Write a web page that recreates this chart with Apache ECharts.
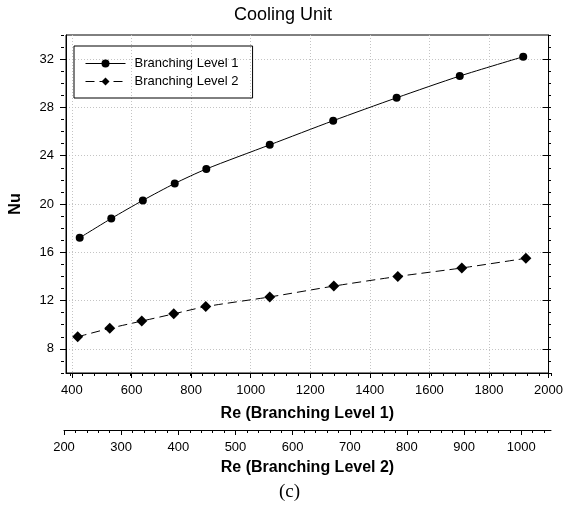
<!DOCTYPE html>
<html>
<head>
<meta charset="utf-8">
<script src="https://cdn.jsdelivr.net/npm/echarts@6/dist/echarts.min.js"></script>
<style>
    html, body { margin: 0; padding: 0; background: #fff; }
    #chart { width: 566px; height: 505px; }
</style>
</head>
<body>
<div id="chart"></div>
<script>
// data
const re1 = [426, 532, 638, 745, 851, 1064, 1277, 1490, 1702, 1915]
const re2 = [224, 280, 336, 392, 448, 560, 672, 784, 896, 1008]
const nu1 = [17.2, 18.8, 20.3, 21.7, 22.9, 24.9, 26.9, 28.8, 30.6, 32.2]
const nu2 = [9.0, 9.7, 10.3, 10.9, 11.5, 12.3, 13.2, 14.0, 14.7, 15.5]

const re1Ticks = [400, 600, 800, 1000, 1200, 1400, 1600, 1800, 2000]
const re2Ticks = [200, 300, 400, 500, 600, 700, 800, 900, 1000]
const nuTicks = [8, 12, 16, 20, 24, 28, 32]

const seriesNames = ['Branching Level 1', 'Branching Level 2']

// minor tick positions
const steps = (from, to, step) => {
    const out = []
    for (let v = from; v <= to; v += step) out.push(v)
    return out
}
const re1Minor = steps(400, 2000, 40)
const re2Minor = steps(200, 1040, 20)

const FONT = 'Arial, "Liberation Sans", sans-serif'
const black = '#000'
const rect = { left: 64, right: 15, top: 35, bottom: 132 }

const base = {
    type: 'value',
    axisLine: { show: false },
    axisTick: { show: false },
    axisLabel: { show: false },
    splitLine: { show: false },
}
const hidden = (extra) => Object.assign({}, base, extra)
const dotted = { show: true, lineStyle: { color: '#c4c4c4', width: 1, type: [1, 2] } }
const labelStyle = { color: black, fontSize: 13, fontFamily: FONT, formatter: v => String(v) }
const nameStyle = { color: black, fontSize: 16, fontWeight: 'bold', fontFamily: FONT }

const chart = echarts.init(document.getElementById('chart'), null, { renderer: 'canvas' })
chart.setOption({
    backgroundColor: '#fff',
    animation: false,
    title: [
        {
            text: 'Cooling Unit',
            left: 'center',
            top: 6,
            padding: 0,
            textStyle: { color: black, fontSize: 18, fontWeight: 'normal', fontFamily: FONT },
        },
        {
            text: '(c)',
            left: 279,
            top: 483,
            padding: 0,
            textStyle: { color: black, fontSize: 19, fontWeight: 'normal', fontFamily: '"Liberation Serif", "Times New Roman", serif' },
        },
    ],
    legend: {
        data: seriesNames,
        orient: 'vertical',
        left: 74,
        top: 46,
        padding: [11, 14, 10, 11],
        itemWidth: 40,
        itemHeight: 10,
        itemGap: 5,
        borderColor: black,
        borderWidth: 1,
        lineStyle: { width: 1 },
        textStyle: { color: black, fontSize: 13, fontFamily: FONT, padding: [0, 0, 0, 4] },
    },
    grid: [
        Object.assign({ show: true, borderColor: black, borderWidth: 1 }, rect),
        Object.assign({}, rect),
        Object.assign({}, rect),
        Object.assign({}, rect),
    ],
    xAxis: [
        {
            type: 'value', gridIndex: 0, position: 'bottom', min: 380, max: 2000,
            name: 'Re (Branching Level 1)', nameLocation: 'middle', nameGap: 33, nameTextStyle: nameStyle,
            axisLine: { show: true, lineStyle: { color: black, width: 1 } },
            axisTick: { show: true, customValues: re1Ticks, length: 5, lineStyle: { color: black } },
            axisLabel: { show: true, customValues: re1Ticks, margin: 11, ...labelStyle },
            splitLine: dotted,
        },
        {
            type: 'value', gridIndex: 1, position: 'bottom', offset: 57, min: 200, max: 1052,
            name: 'Re (Branching Level 2)', nameLocation: 'middle', nameGap: 30, nameTextStyle: nameStyle,
            axisLine: { show: true, lineStyle: { color: black, width: 1 } },
            axisTick: { show: true, customValues: re2Ticks, length: 5, lineStyle: { color: black } },
            axisLabel: { show: true, customValues: re2Ticks, margin: 11, ...labelStyle },
            splitLine: { show: false },
        },
        hidden({
            gridIndex: 2, position: 'bottom', min: 380, max: 2000,
            axisTick: { show: true, customValues: re1Minor, length: 3, lineStyle: { color: black } },
        }),
        hidden({
            gridIndex: 3, position: 'bottom', offset: 57, min: 200, max: 1052,
            axisTick: { show: true, customValues: re2Minor, length: 3, lineStyle: { color: black } },
        }),
    ],
    yAxis: [
        {
            type: 'value', gridIndex: 0, position: 'left', min: 6, max: 34,
            name: 'Nu', nameLocation: 'middle', nameGap: 42, nameTextStyle: nameStyle,
            axisLine: { show: true, lineStyle: { color: black, width: 1 } },
            axisTick: { show: true, customValues: nuTicks, length: 6, lineStyle: { color: black } },
            axisLabel: { show: true, customValues: nuTicks, margin: 12, ...labelStyle },
            splitLine: dotted,
        },
        {
            type: 'value', gridIndex: 0, position: 'right', min: 6, max: 34,
            axisLine: { show: true, lineStyle: { color: black, width: 1 } },
            axisTick: { show: true, inside: true, customValues: nuTicks, length: 6, lineStyle: { color: black } },
            axisLabel: { show: false },
            splitLine: { show: false },
        },
        hidden({ gridIndex: 1, position: 'left', min: 6, max: 34 }),
        hidden({
            gridIndex: 2, position: 'left', min: 6, max: 34, interval: 1,
            axisTick: { show: true, length: 3, lineStyle: { color: black } },
        }),
        hidden({
            gridIndex: 3, position: 'right', min: 6, max: 34, interval: 1,
            axisTick: { show: true, inside: true, length: 3, lineStyle: { color: black } },
        }),
    ],
    series: [
        {
            name: seriesNames[0],
            type: 'line',
            xAxisIndex: 0,
            yAxisIndex: 0,
            data: re1.map((x, i) => [x, nu1[i]]),
            smooth: 0.25,
            symbol: 'circle',
            symbolSize: 8,
            itemStyle: { color: black },
            lineStyle: { color: black, width: 1 },
            z: 5,
        },
        {
            name: seriesNames[1],
            type: 'line',
            xAxisIndex: 1,
            yAxisIndex: 2,
            data: re2.map((x, i) => [x, nu2[i]]),
            smooth: 0.25,
            symbol: 'diamond',
            symbolSize: 11,
            itemStyle: { color: black },
            lineStyle: { color: black, width: 1, type: [9, 5] },
            z: 5,
        },
    ],
})
</script>
</body>
</html>
